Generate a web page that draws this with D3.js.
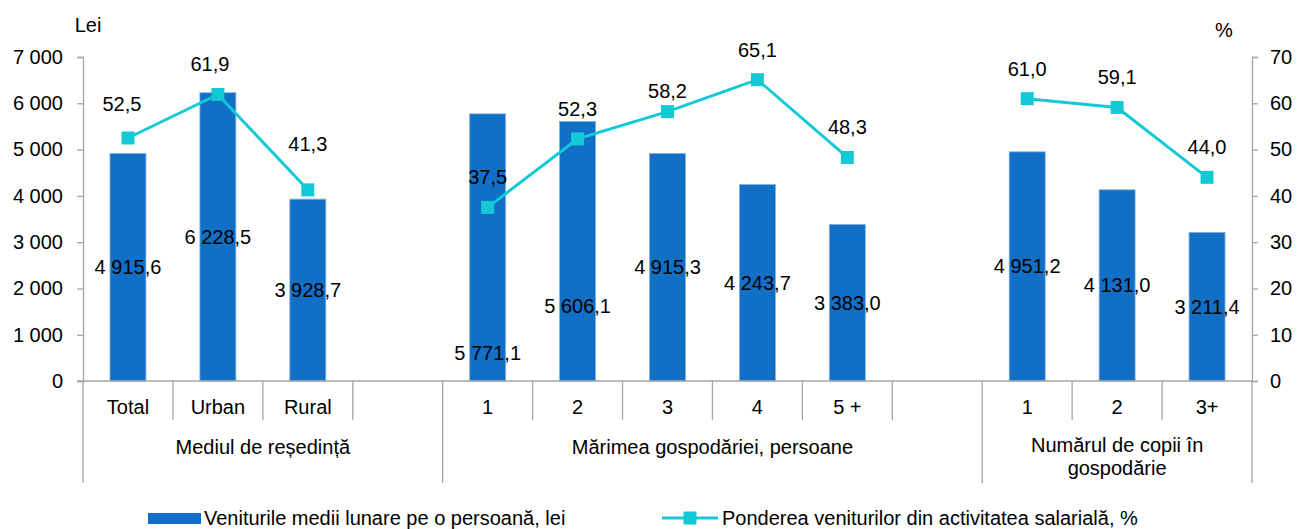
<!DOCTYPE html>
<html>
<head>
<meta charset="utf-8">
<script src="https://cdn.jsdelivr.net/npm/d3@7"></script>
<style>
  body { margin: 0; background: #fff; }
  svg { display: block; font-family: "Liberation Sans", Arial, sans-serif; }
</style>
</head>
<body>
<svg width="1297" height="529"></svg>
<script>
(function(d3) {
    "use strict";

// data
var groupNames = ["Mediul de reședință", "Mărimea gospodăriei, persoane", "Numărul de copii în|gospodărie"],
    categories = [["Total", "Urban", "Rural"], ["1", "2", "3", "4", "5 +"], ["1", "2", "3+"]],
    income = [[4915.6, 6228.5, 3928.7], [5771.1, 5606.1, 4915.3, 4243.7, 3383.0], [4951.2, 4131.0, 3211.4]],
    share = [[52.5, 61.9, 41.3], [37.5, 52.3, 58.2, 65.1, 48.3], [61.0, 59.1, 44.0]],
    blankAfter = [1, 1, 0],
    leftTicks = [0, 1000, 2000, 3000, 4000, 5000, 6000, 7000],
    rightTicks = [0, 10, 20, 30, 40, 50, 60, 70],
    legendLabels = ["Veniturile medii lunare pe o persoană, lei", "Ponderea veniturilor din activitatea salarială, %"];

var barColor = "#1170c6",
    lineColor = "#14c9d6",
    axisColor = "#a6a6a6",
    fontSize = 20;

// label nudges (the original had a few labels dragged by hand)
var barLabelPos = {"1-0": 0.105, "1-1": 0.29},
    lineLabelNudge = {"0-0": [-6, -4], "0-1": [-8, 0], "0-2": [0, -16], "1-2": [0, 9]};

var ro = d3.formatLocale({decimal: ",", thousands: "\u00a0", grouping: [3]}),
    fmt1 = ro.format(",.1f"),
    fmt0 = ro.format(",d");

var svg = d3.select("svg"),
    x0 = 83, x1 = 1252, yTop = 57, yBot = 381;

// build slots
var slots = [], groups = [];
categories.forEach(function(cats, gi) {
    var start = slots.length;
    cats.forEach(function(c, i) {
        slots.push({key: gi + "-" + i, g: gi, i: i, label: c, income: income[gi][i], share: share[gi][i]});
    });
    for (var b = 0; b < blankAfter[gi]; b++) slots.push({key: gi + "-b" + b, g: gi, blank: true, label: ""});
    groups.push({name: groupNames[gi], from: start, to: slots.length});
});

var x = d3.scaleBand().domain(slots.map(function(d) { return d.key; })).range([x0, x1]).padding(0),
    yL = d3.scaleLinear().domain([0, 7000]).range([yBot, yTop]),
    yR = d3.scaleLinear().domain([0, 70]).range([yBot, yTop]),
    bw = x.bandwidth(),
    barW = bw * 0.4;

var data = slots.filter(function(d) { return !d.blank; });

// left axis
var gl = svg.append("g").attr("transform", "translate(" + x0 + ",0)")
    .call(d3.axisLeft(yL).tickValues(leftTicks).tickSize(6).tickPadding(14).tickFormat(fmt0));
// right axis
var gr = svg.append("g").attr("transform", "translate(" + x1 + ",0)")
    .call(d3.axisRight(yR).tickValues(rightTicks).tickSize(6).tickPadding(12).tickFormat(d3.format("d")));
[gl, gr].forEach(function(g) {
    g.select(".domain").attr("stroke", axisColor).attr("stroke-width", 1.3);
    g.selectAll(".tick line").attr("stroke", axisColor).attr("stroke-width", 1.3);
    g.selectAll(".tick text").attr("fill", "#000").style("font-size", fontSize + "px")
        .style("font-family", "Liberation Sans, Arial, sans-serif");
});

// axis titles
svg.append("text").attr("x", 88).attr("y", 25).attr("dy", "0.35em").attr("text-anchor", "middle")
    .style("font-size", fontSize + "px").text("Lei");
svg.append("text").attr("x", 1224).attr("y", 30).attr("dy", "0.35em").attr("text-anchor", "middle")
    .style("font-size", fontSize + "px").text("%");

// bars
svg.append("g").selectAll("rect").data(data).enter().append("rect")
    .attr("x", function(d) { return x(d.key) + (bw - barW) / 2; })
    .attr("y", function(d) { return yL(d.income); })
    .attr("width", barW)
    .attr("height", function(d) { return yBot - yL(d.income); })
    .attr("fill", barColor)
    .attr("stroke", "#7fb0e4")
    .attr("stroke-width", 0.8);

// category x axis
svg.append("line").attr("x1", x0 - 6).attr("x2", x1).attr("y1", yBot).attr("y2", yBot)
    .attr("stroke", axisColor).attr("stroke-width", 1.3);

var bounds = [];
slots.forEach(function(d, i) { if (i > 0) bounds.push(x(d.key)); });
bounds.push(x1);
var groupBounds = groups.map(function(g) { return x(slots[g.from].key); }).concat([x1]);

svg.append("g").selectAll("line").data([x0].concat(bounds)).enter().append("line")
    .attr("x1", function(d) { return d; }).attr("x2", function(d) { return d; })
    .attr("y1", yBot)
    .attr("y2", function(d) { return groupBounds.indexOf(d) >= 0 ? 483 : 420; })
    .attr("stroke", axisColor).attr("stroke-width", 1.3);

svg.append("g").selectAll("text").data(data).enter().append("text")
    .attr("x", function(d) { return x(d.key) + bw / 2; })
    .attr("y", 407).attr("dy", "0.35em").attr("text-anchor", "middle")
    .style("font-size", fontSize + "px")
    .text(function(d) { return d.label; });

groups.forEach(function(g, gi) {
    var a = groupBounds[gi], b = groupBounds[gi + 1],
        lines = g.name.split("|");
    var t = svg.append("text").attr("x", (a + b) / 2).attr("y", lines.length > 1 ? 445 : 447)
        .attr("text-anchor", "middle").style("font-size", fontSize + "px");
    lines.forEach(function(s, li) {
        t.append("tspan").attr("x", (a + b) / 2).attr("dy", li === 0 ? "0.35em" : 23).text(s);
    });
});

// bar labels
svg.append("g").selectAll("text").data(data).enter().append("text")
    .attr("x", function(d) { return x(d.key) + bw / 2; })
    .attr("y", function(d) {
        var f = barLabelPos[d.key] !== undefined ? barLabelPos[d.key] : 0.5;
        return yL(d.income * f);
    })
    .attr("dy", "0.35em").attr("text-anchor", "middle")
    .style("font-size", fontSize + "px")
    .text(function(d) { return fmt1(d.income); });

// line per group
var line = d3.line()
    .x(function(d) { return x(d.key) + bw / 2; })
    .y(function(d) { return yR(d.share); });

groups.forEach(function(g, gi) {
    var pts = data.filter(function(d) { return d.g === gi; });
    svg.append("path").datum(pts).attr("d", line)
        .attr("fill", "none").attr("stroke", lineColor).attr("stroke-width", 3);
});

var m = 13;
svg.append("g").selectAll("rect").data(data).enter().append("rect")
    .attr("x", function(d) { return x(d.key) + bw / 2 - m / 2; })
    .attr("y", function(d) { return yR(d.share) - m / 2; })
    .attr("width", m).attr("height", m)
    .attr("fill", lineColor);

svg.append("g").selectAll("text").data(data).enter().append("text")
    .attr("x", function(d) { var n = lineLabelNudge[d.key]; return x(d.key) + bw / 2 + (n ? n[0] : 0); })
    .attr("y", function(d) { var n = lineLabelNudge[d.key]; return yR(d.share) - 30 + (n ? n[1] : 0); })
    .attr("dy", "0.35em").attr("text-anchor", "middle")
    .style("font-size", fontSize + "px")
    .text(function(d) { return fmt1(d.share); });

// legend
var lg = svg.append("g");
lg.append("rect").attr("x", 148).attr("y", 513).attr("width", 53).attr("height", 11).attr("fill", barColor);
lg.append("text").attr("x", 204).attr("y", 518).attr("dy", "0.35em").style("font-size", fontSize + "px")
    .text(legendLabels[0]);
lg.append("line").attr("x1", 662).attr("x2", 718).attr("y1", 518).attr("y2", 518)
    .attr("stroke", lineColor).attr("stroke-width", 3);
lg.append("rect").attr("x", 690 - m / 2).attr("y", 518 - m / 2).attr("width", m).attr("height", m).attr("fill", lineColor);
lg.append("text").attr("x", 722).attr("y", 518).attr("dy", "0.35em").style("font-size", fontSize + "px")
    .text(legendLabels[1]);

}(d3));
</script>
</body>
</html>
